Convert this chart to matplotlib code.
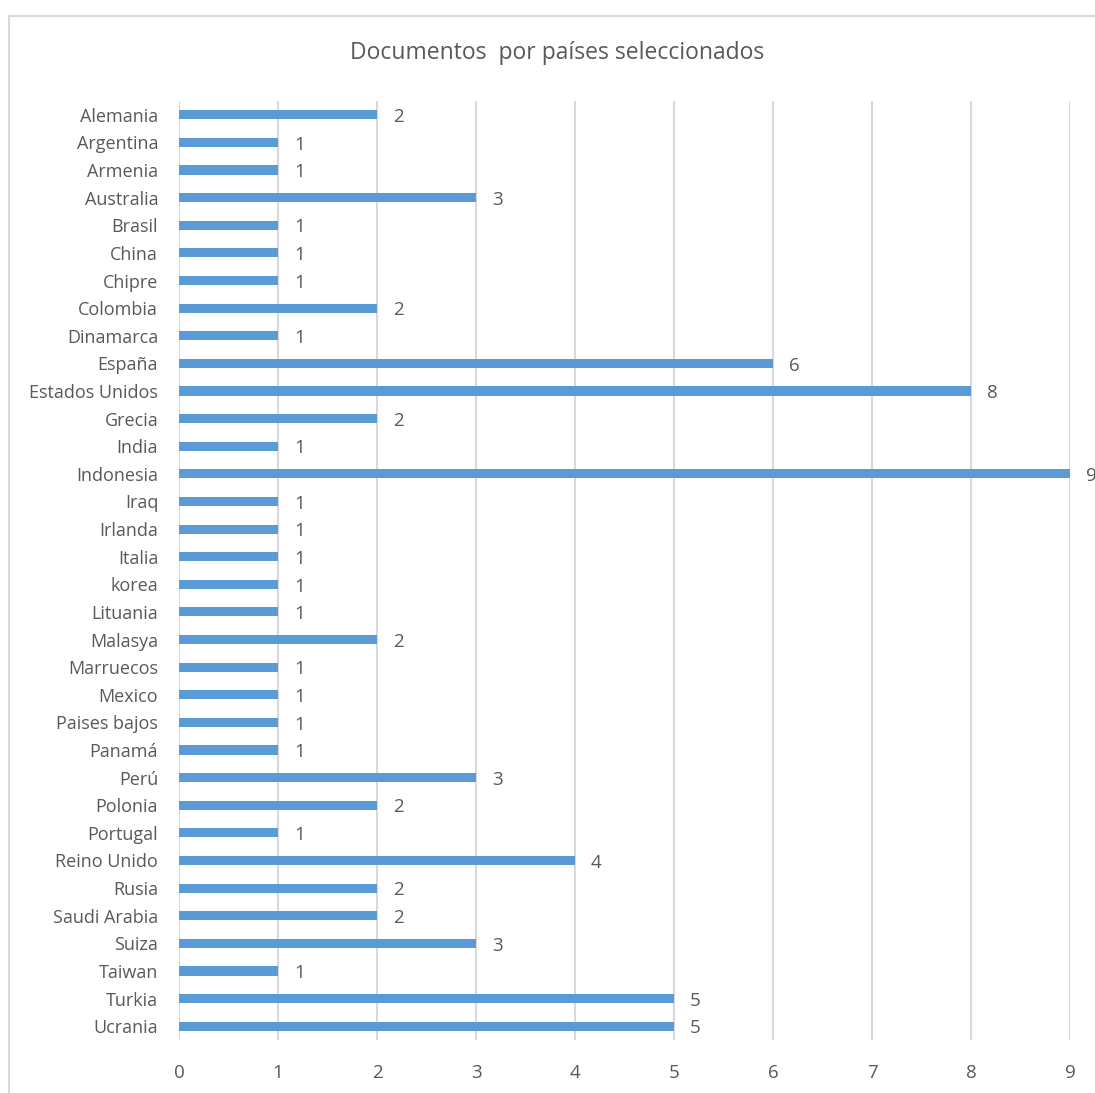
import matplotlib.pyplot as plt
from matplotlib.patches import Rectangle

# Documents per country
paises = ['Alemania', 'Argentina', 'Armenia', 'Australia', 'Brasil', 'China', 'Chipre',
          'Colombia', 'Dinamarca', 'España', 'Estados Unidos', 'Grecia', 'India',
          'Indonesia', 'Iraq', 'Irlanda', 'Italia', 'korea', 'Lituania', 'Malasya',
          'Marruecos', 'Mexico', 'Paises bajos', 'Panamá', 'Perú', 'Polonia',
          'Portugal', 'Reino Unido', 'Rusia', 'Saudi Arabia', 'Suiza', 'Taiwan',
          'Turkia', 'Ucrania']
documentos = [2, 1, 1, 3, 1, 1, 1, 2, 1, 6, 8, 2, 1, 9, 1, 1, 1, 1, 1, 2,
              1, 1, 1, 1, 3, 2, 1, 4, 2, 2, 3, 1, 5, 5]
x_ticks = list(range(10))

plt.rcParams['font.family'] = ['Open Sans', 'DejaVu Sans']
text_color = '#595959'
grid_color = '#d9d9d9'
bar_color = '#5b9bd5'

fig = plt.figure(figsize=(10.95, 10.93), dpi=100)
ax = fig.add_axes([179 / 1095, 1 - 1040 / 1093, (1070 - 179) / 1095, (1040 - 101) / 1093])

# chart area border
fig.patches.append(Rectangle((9 / 1095, -0.1), 1.2, 1 - 16 / 1093 + 0.1,
                             transform=fig.transFigure, fill=False,
                             edgecolor=grid_color, linewidth=1.5))

y = list(range(len(paises)))
ax.barh(y, documentos, height=0.33, color=bar_color, zorder=3)
for yi, v in zip(y, documentos):
    ax.text(v + 0.16, yi + 0.08, str(v), va='center', ha='left', fontsize=13.5,
            color=text_color, clip_on=False)

ax.set_xlim(0, 9)
ax.set_ylim(len(paises) - 0.5, -0.5)
ax.set_xticks(x_ticks)
ax.set_yticks(y)
ax.set_yticklabels(paises)
ax.xaxis.grid(True, color=grid_color, linewidth=1.5, zorder=0)
ax.tick_params(axis='both', length=0, colors=text_color)
ax.tick_params(axis='x', pad=17, labelsize=13.5)
ax.tick_params(axis='y', pad=15, labelsize=13)
for s in ax.spines.values():
    s.set_visible(False)

fig.text(557 / 1095, 1 - 53 / 1093, 'Documentos  por países seleccionados',
         ha='center', va='center', fontsize=16.5, color=text_color)

fig.savefig('out.png', dpi=100)
